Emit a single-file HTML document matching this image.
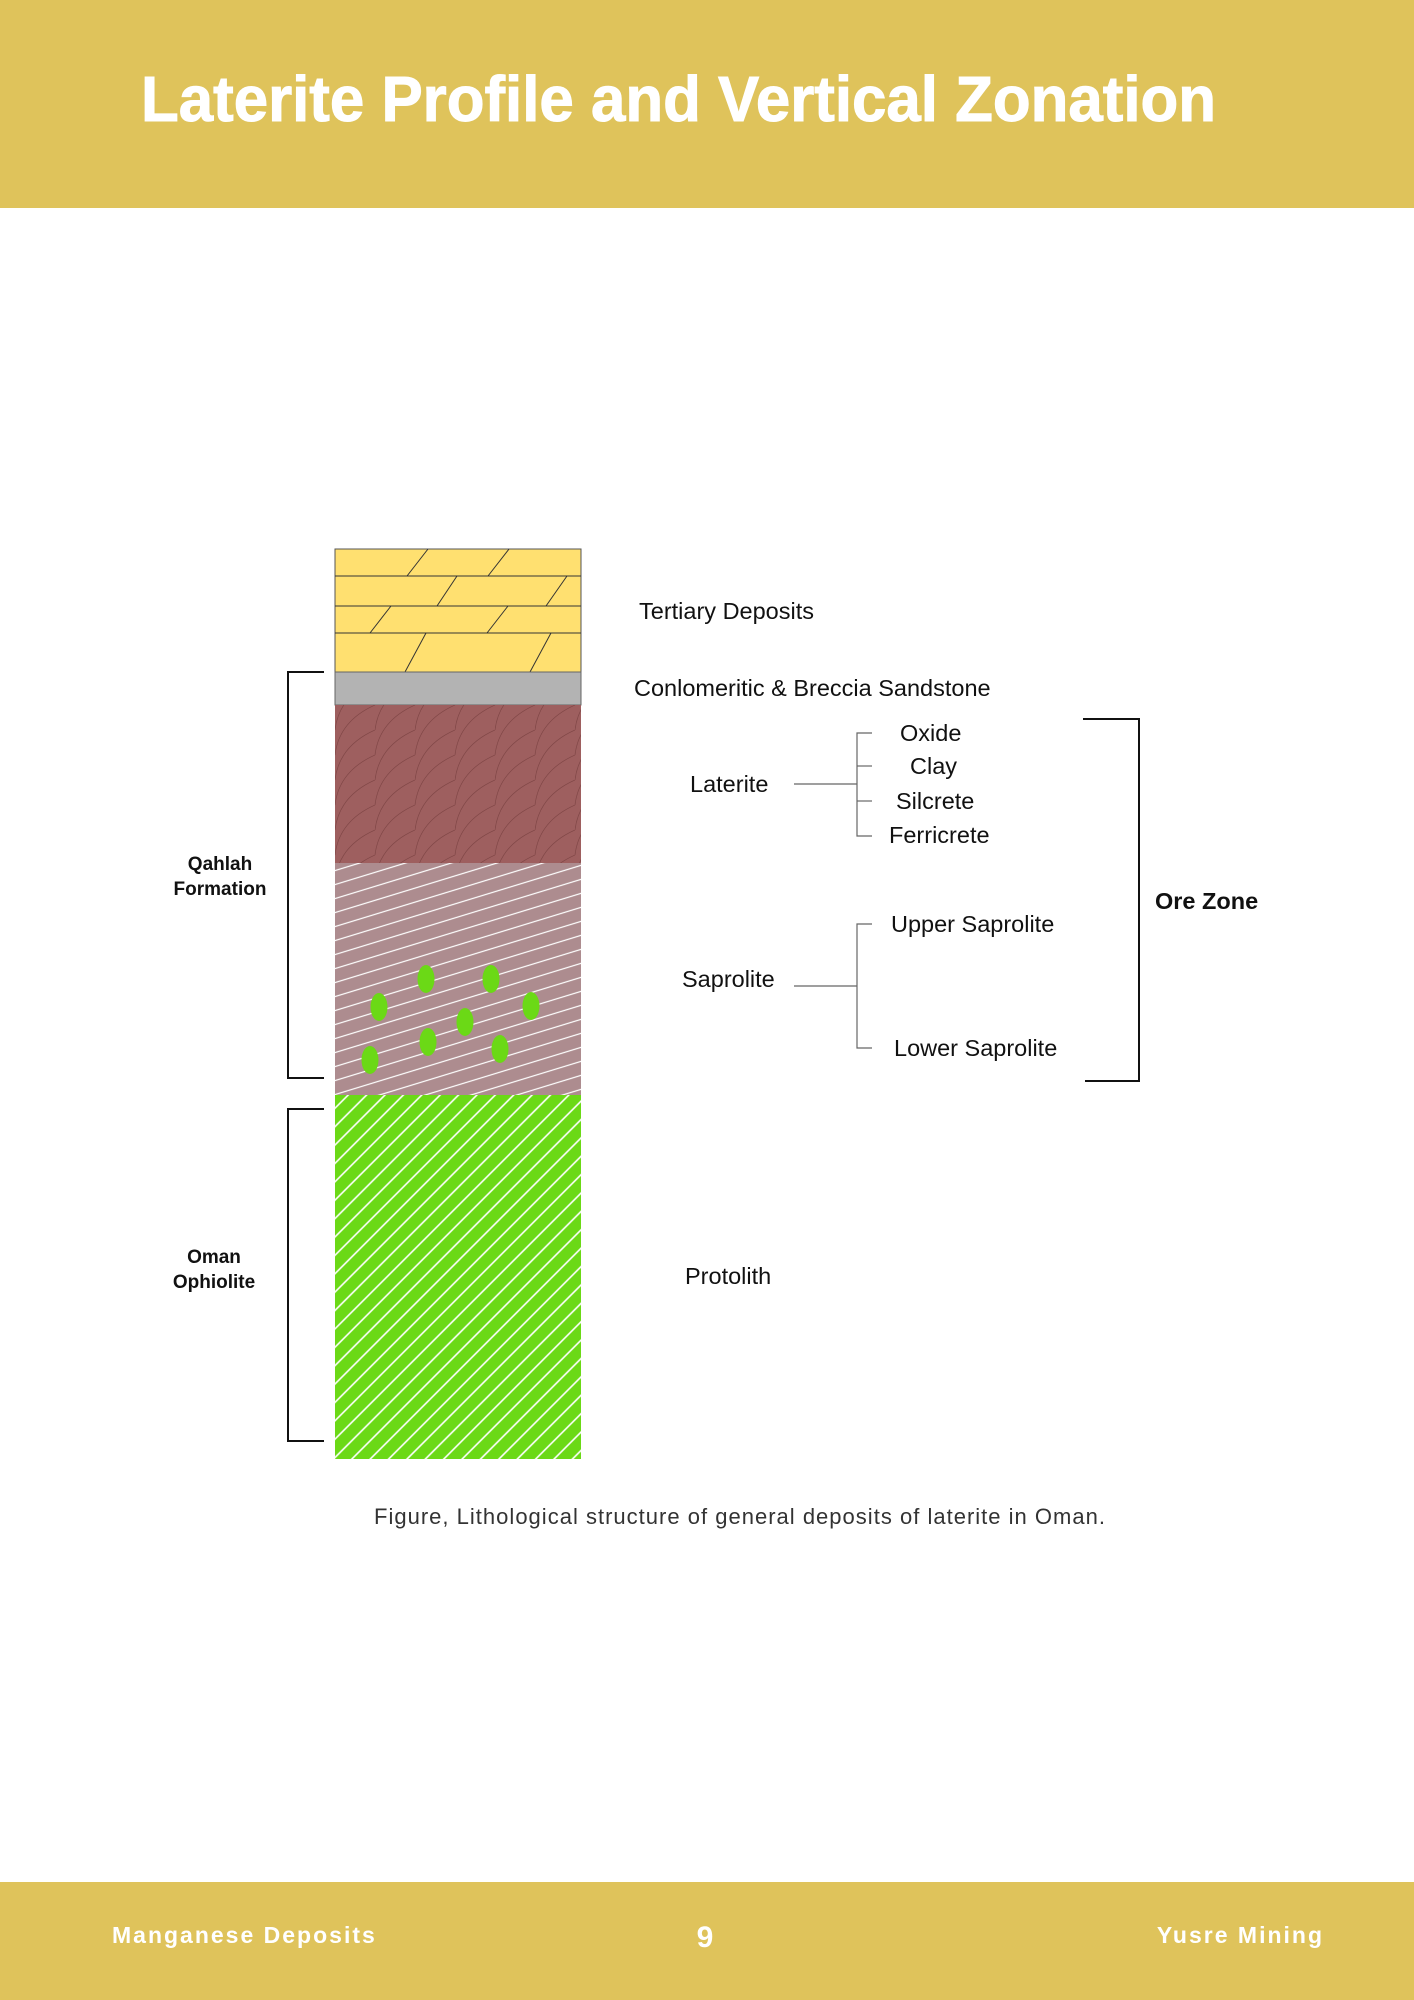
<!DOCTYPE html>
<html><head><meta charset="utf-8"><style>
html,body{margin:0;padding:0;background:#fff}
svg{display:block}
</style></head><body>
<svg width="1414" height="2000" viewBox="0 0 1414 2000" xmlns="http://www.w3.org/2000/svg" font-family="Liberation Sans, sans-serif">
<defs>
<pattern id="sap" patternUnits="userSpaceOnUse" width="60" height="14" patternTransform="skewY(-17)">
<rect width="60" height="14" fill="#AD8C8F"/>
<line x1="0" y1="7" x2="60" y2="7" stroke="#fff" stroke-width="1.2"/>
</pattern>
<pattern id="grn" patternUnits="userSpaceOnUse" width="13" height="13" patternTransform="rotate(45)">
<rect width="13" height="13" fill="#6BD916"/>
<line x1="6.5" y1="0" x2="6.5" y2="13" stroke="#fff" stroke-width="1.6"/>
</pattern>
<pattern id="brn" patternUnits="userSpaceOnUse" x="335" y="705" width="40" height="50">
<rect width="40" height="50" fill="#9E5F5F"/>
<path d="M0 50 Q4 16 40 0 M-40 50 Q-36 16 0 0 M40 50 Q44 16 80 0" fill="none" stroke="#804646" stroke-width="0.7"/>
<path d="M0 25 Q4 -9 40 -25 M0 75 Q4 41 40 25" fill="none" stroke="#804646" stroke-width="0.7"/>
</pattern>
</defs>

<rect x="0" y="0" width="1414" height="208" fill="#DFC35B"/>
<text x="141" y="121" font-size="64" font-weight="bold" fill="#fff" textLength="1075" lengthAdjust="spacingAndGlyphs" stroke="#fff" stroke-width="1">Laterite Profile and Vertical Zonation</text>

<!-- column -->
<rect x="335" y="549" width="246" height="123" fill="#FFE070" stroke="#555" stroke-width="1"/>
<g stroke="#333" stroke-width="1">
<line x1="335" y1="576" x2="581" y2="576"/>
<line x1="335" y1="606" x2="581" y2="606"/>
<line x1="335" y1="633" x2="581" y2="633"/>
<line x1="407" y1="576" x2="428" y2="549"/>
<line x1="488" y1="576" x2="509" y2="549"/>
<line x1="437" y1="606" x2="457" y2="576"/>
<line x1="546" y1="606" x2="567" y2="576"/>
<line x1="370" y1="633" x2="391" y2="606"/>
<line x1="487" y1="633" x2="508" y2="606"/>
<line x1="405" y1="672" x2="426" y2="633"/>
<line x1="530" y1="672" x2="551" y2="633"/>
</g>
<rect x="335" y="672" width="246" height="33" fill="#B3B3B3" stroke="#666" stroke-width="1"/>
<rect x="335" y="705" width="246" height="158" fill="url(#brn)"/>
<rect x="335" y="863" width="246" height="232" fill="url(#sap)"/>
<rect x="335" y="1095" width="246" height="364" fill="url(#grn)"/>
<g fill="#6BD916">
<ellipse cx="426" cy="979" rx="8.5" ry="14"/>
<ellipse cx="491" cy="979" rx="8.5" ry="14"/>
<ellipse cx="379" cy="1007" rx="8.5" ry="14"/>
<ellipse cx="531" cy="1006" rx="8.5" ry="14"/>
<ellipse cx="465" cy="1022" rx="8.5" ry="14"/>
<ellipse cx="428" cy="1042" rx="8.5" ry="14"/>
<ellipse cx="500" cy="1049" rx="8.5" ry="14"/>
<ellipse cx="370" cy="1060" rx="8.5" ry="14"/>
</g>

<!-- left brackets -->
<g fill="none" stroke="#111" stroke-width="2">
<polyline points="324,672 288,672 288,1078 324,1078"/>
<polyline points="324,1109 288,1109 288,1441 324,1441"/>
</g>
<g font-size="19" font-weight="bold" fill="#111" text-anchor="middle">
<text x="220" y="870">Qahlah</text>
<text x="220" y="895">Formation</text>
<text x="214" y="1263">Oman</text>
<text x="214" y="1288">Ophiolite</text>
</g>

<!-- right labels -->
<g font-size="23.5" fill="#111">
<text x="639" y="619">Tertiary Deposits</text>
<text x="634" y="696">Conlomeritic &amp; Breccia Sandstone</text>
<text x="690" y="792">Laterite</text>
<text x="900" y="741">Oxide</text>
<text x="910" y="774">Clay</text>
<text x="896" y="809">Silcrete</text>
<text x="889" y="843">Ferricrete</text>
<text x="682" y="987">Saprolite</text>
<text x="891" y="932">Upper Saprolite</text>
<text x="894" y="1056">Lower Saprolite</text>
<text x="685" y="1284">Protolith</text>
<text x="1155" y="909" font-weight="bold">Ore Zone</text>
</g>
<g fill="none" stroke="#666" stroke-width="1.2">
<line x1="794" y1="784" x2="857" y2="784"/>
<polyline points="872,733 857,733 857,836 872,836"/>
<line x1="857" y1="766" x2="872" y2="766"/>
<line x1="857" y1="801" x2="872" y2="801"/>
<line x1="794" y1="986" x2="857" y2="986"/>
<polyline points="872,924 857,924 857,1048 872,1048"/>
</g>
<polyline points="1083,719 1139,719 1139,1081 1085,1081" fill="none" stroke="#111" stroke-width="2"/>

<text x="374" y="1524" font-size="22" fill="#333" textLength="731" lengthAdjust="spacing">Figure, Lithological structure of general deposits of laterite in Oman.</text>

<rect x="0" y="1882" width="1414" height="118" fill="#DFC35B"/>
<g font-size="23" font-weight="bold" fill="#fff" letter-spacing="2">
<text x="112" y="1943">Manganese Deposits</text>
<text x="706" y="1947" text-anchor="middle" font-size="30">9</text>
<text x="1324" y="1943" text-anchor="end">Yusre Mining</text>
</g>
</svg>
</body></html>
